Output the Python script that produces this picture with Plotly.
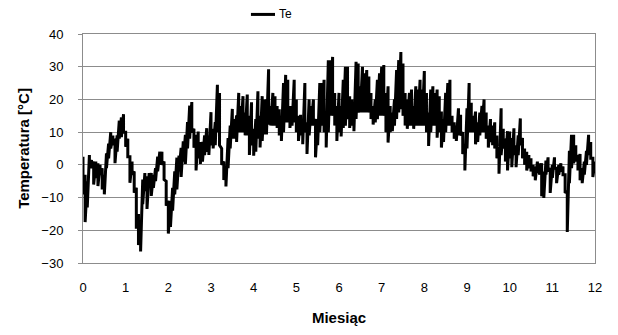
import plotly.graph_objects as go

# Uniform time grid (months 0-12, step 0.05 month) and the upper / lower
# envelope of the hourly outdoor temperature Te [°C]
months = [round(i * 0.05, 2) for i in range(241)]

t_upper = [
    2.5, -3, -5, 3, 1.5, 1, 1, 0.5, 0, -1, -3, 3.5, 6.5, 10, 9, 8, 9, 13.5, 14.5, 15.5,
    10, 8, 2.5, 1, -2, -7, -15, -17, -4.5, -2.5, -3.5, -2.5, -2.5, -3, -1, 2.5, 4, 4, 1, -5,
    -11, -11, -7, -2, 2.2, 2.8, 5.2, 7.2, 9.2, 13.1, 18.1, 19.2, 11, 9.2, 10.2, 7, 7, 9, 11.2, 9,
    16.1, 11, 13.1, 24.5, 22, 5, 1, -1, 8.2, 12, 17.1, 14, 15.1, 22, 18, 21, 16, 21.5, 15, 19.1,
    11, 14, 22.5, 15, 21, 20, 20, 29.2, 18, 22, 21, 18, 17, 15, 25, 27.5, 26, 18, 17.3, 26,
    20, 15, 15.3, 14, 25, 13, 20, 18, 20, 14, 14, 25, 25, 26, 14, 32, 32, 33, 22, 18,
    22, 18, 26, 30, 30, 21, 20, 18, 31.5, 31, 24, 30, 28, 29, 27, 22, 18, 20, 26, 28,
    30, 30.5, 22, 24, 18, 16, 20, 29, 32, 34.5, 31, 22, 20, 22, 23, 18, 24, 23, 26, 23,
    28.7, 22, 16, 23, 24, 22, 23, 21, 16.3, 14, 22, 25, 26, 15, 13, 12, 17.3, 15.3, 10, 6,
    17.3, 25, 19, 15, 16.3, 13, 16, 18, 20, 16, 12, 14, 12, 13, 9, 4, 17.3, 11, 8, 10.3,
    10.2, 8.2, 11.2, 6, 9, 14.2, 8.2, 5, 4, 3, 2, 0, -0.5, 1, 0.5, 0.5, -2, 1.3, 2.3, -1,
    0, 2.3, -1, 0, 0.5, -0.5, -3, -8, 4.3, 9.2, 9.2, 6, 3, 3.3, -1, 1, 4.3, 9.2, 7, 2,
    1,
]

t_lower = [
    -9, -17.5, -13, -1, -1, -6, -4, -6.5, -3, -7.5, -9, -1, 2, 5, 6, 0.5, 4, 8, 8.5, 10,
    5.5, 2.5, -5.5, -3, -8.5, -19.5, -24.5, -26.5, -12, -8, -13.5, -7, -9.5, -7, -5, -2, 0, 0, -4.5, -12.5,
    -21, -19, -14, -9, -7.5, -2, -3.7, 1, 0.3, 5, 8, 10, 5.2, -1.7, 2, 0.3, 1, 3, 4, 3,
    6, 5, 6, 10, 6, 0, -4.6, -6.6, -1, 5, 8, 8, 7, 10, 10, 10, 9, 9, 3, 6,
    2.8, 4, 8, 5.3, 7.3, 9.3, 9.3, 12.3, 12, 12, 12, 11.3, 9, 7.3, 10, 13, 13, 11.3, 12, 13,
    10, 7.3, 9, 6.3, 10, 3.3, 9, 12, 12, 2.3, 6, 10, 12, 10, 5.3, 10, 15, 15, 12, 7.3,
    10, 8.7, 11.3, 12, 14, 11.3, 12, 10.3, 14, 16, 16, 16, 16, 16, 16, 14, 12.3, 13, 14, 15,
    15, 15, 10, 6.8, 10, 10.3, 12, 14, 16, 17, 15, 12, 11, 12, 12, 11, 12, 12, 12, 12,
    12, 10, 5.8, 10, 12, 12, 8.3, 10, 5.3, 7, 10, 12, 12, 10, 8, 7.3, 9, 9, 3.3, -1.7,
    5, 10, 10, 10, 6.3, 7, 9, 10, 10, 8, 5.3, 7, 6, 5, 2, -2.7, 3, 5, 1, -1.7,
    2, -0.7, 3, -0.7, 3, 6, 2, 0, -1.7, -1, -2, -3.5, -4.7, -2.5, -3, -9.6, -10.1, -3, -2, -8.6,
    -4, -1, -5.6, -3, -2, -3, -8.6, -20.5, -5.6, -1, 0.5, 1, -1.7, -4.7, -5.6, -3, 0, 3, 2, -3.7,
    -2,
]

y_ticks = [-30, -20, -10, 0, 10, 20, 30, 40]
x_ticks = list(range(0, 13))
series_name = "Te"

# hourly swing: alternate between the upper and lower envelope at every time step
x_series, y_series = [], []
for m, hi, lo in zip(months, t_upper, t_lower):
    x_series += [m, m]
    y_series += [hi, lo]

FONT = "Arial, 'Liberation Sans', sans-serif"
GRID = "#8c8c8c"

fig = go.Figure()
fig.add_trace(go.Scatter(
    x=x_series, y=y_series, mode="lines", name=series_name,
    line=dict(color="black", width=3), showlegend=False,
))

# legend key drawn above the plot (keeps the plot area where it is in the original)
fig.add_shape(type="line", xref="paper", yref="paper",
              x0=0.328, x1=0.375, y0=1.0855, y1=1.0855,
              line=dict(color="black", width=3))
fig.add_annotation(xref="paper", yref="paper", x=0.379, y=1.0855,
                   xanchor="left", yanchor="middle", showarrow=False,
                   text=series_name, font=dict(size=12, color="black"))

fig.update_layout(
    width=618, height=335,
    margin=dict(l=83, r=23, t=34, b=67),
    paper_bgcolor="white", plot_bgcolor="white",
    font=dict(family=FONT, size=13, color="black"),
    showlegend=False,
    xaxis=dict(
        range=[0, 12], tickvals=x_ticks, ticktext=[str(v) for v in x_ticks],
        showgrid=False, zeroline=False,
        showline=True, linecolor=GRID, linewidth=1, mirror=True,
        ticks="", ticklabelstandoff=12,
        title=dict(text="<b>Miesiąc</b>", font=dict(size=15), standoff=18),
    ),
    yaxis=dict(
        range=[-30, 40], tickvals=y_ticks,
        showgrid=True, gridcolor=GRID, gridwidth=1, zeroline=False,
        showline=True, linecolor=GRID, linewidth=1, mirror=True,
        ticks="outside", ticklen=4, tickcolor=GRID, ticklabelstandoff=12,
        title=dict(text="<b>Temperatura [°C]</b>", font=dict(size=15), standoff=8),
    ),
)

fig.write_html("out.html")
